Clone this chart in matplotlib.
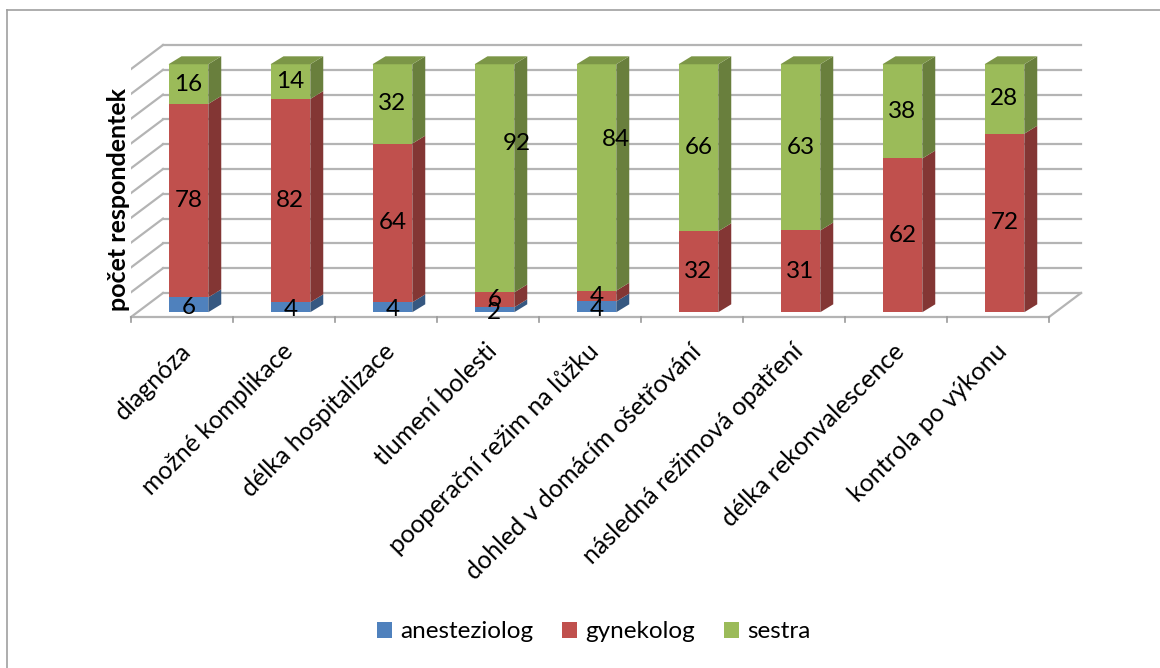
import numpy as np
import matplotlib
matplotlib.use("Agg")
import matplotlib.pyplot as plt
from matplotlib.patches import Polygon, Rectangle
from matplotlib.colors import to_rgb

plt.rcParams['font.family'] = ['Lato', 'DejaVu Sans']

categories = ["diagnóza", "možné komplikace", "délka hospitalizace", "tlumení bolesti",
              "pooperační režim na lůžku", "dohled v domácím ošetřování",
              "následná režimová opatření", "délka rekonvalescence", "kontrola po výkonu"]
anesteziolog = [6, 4, 4, 2, 4, 0, 0, 0, 0]
gynekolog = [78, 82, 64, 6, 4, 32, 31, 62, 72]
sestra = [16, 14, 32, 92, 84, 66, 63, 38, 28]

series = [("anesteziolog", anesteziolog, "#4f81bd"),
          ("gynekolog", gynekolog, "#c0504d"),
          ("sestra", sestra, "#9bbb59")]

# 100% stacked: each column is scaled to its own total
vals = np.array([s[1] for s in series], dtype=float)
pct = vals / vals.sum(axis=0) * 100
bottoms = np.vstack([np.zeros(len(categories)), np.cumsum(pct, axis=0)[:-1]])

# fake depth: shift per unit of depth along x (categories) and y (percent)
DX, DY = 0.314, 9.7
Z0 = 0.2                    # depth of the column fronts
BDX, BDY = 0.127, 3.2       # column depth (side / top faces)
W = 0.39
grid_c = "#b4b4b4"


def shade(c, f):
    return tuple(v * f for v in to_rgb(c))


fig = plt.figure(figsize=(11.6, 6.68), dpi=100)
ax = fig.add_axes([131 / 1160, 346 / 668, 969 / 1160, 282.7 / 668])
ax.set_xlim(-0.5, 9.0)
ax.set_ylim(-2, 112)
ax.axis("off")

n = len(categories)
# back wall + left wall gridlines
for v in range(0, 101, 10):
    ax.plot([-0.5 + DX, n - 0.5 + DX], [v + DY, v + DY], color=grid_c, lw=1.6, zorder=1)
    ax.plot([-0.5, -0.5 + DX], [v, v + DY], color=grid_c, lw=1.6, zorder=1)
# floor edges and ticks
ax.plot([-0.5, n - 0.5], [0, 0], color=grid_c, lw=1.6, zorder=1, clip_on=False)
ax.plot([n - 0.5, n - 0.5 + DX], [0, DY], color=grid_c, lw=1.6, zorder=1)
for b in np.arange(-0.5, n, 1.0):
    ax.plot([b, b], [0, -2.2], color="#9a9a9a", lw=1.2, clip_on=False, zorder=1)

# columns
for i in range(n):
    x0 = i + Z0 * DX - W / 2
    x1 = x0 + W
    top_k = max(k for k in range(len(series)) if pct[k, i] > 0)
    for k, (name, _, col) in enumerate(series):
        h = pct[k, i]
        if h <= 0:
            continue
        y0 = bottoms[k, i] + Z0 * DY
        y1 = y0 + h
        ax.add_patch(Rectangle((x0, y0), W, h, facecolor=col, edgecolor="none", zorder=3))
        ax.add_patch(Polygon([(x1, y0), (x1 + BDX, y0 + BDY), (x1 + BDX, y1 + BDY), (x1, y1)],
                             closed=True, facecolor=shade(col, 0.68), edgecolor="none", zorder=3))
        if k == top_k:
            ax.add_patch(Polygon([(x0, y1), (x1, y1), (x1 + BDX, y1 + BDY), (x0 + BDX, y1 + BDY)],
                                 closed=True, facecolor=shade(col, 0.8), edgecolor="none", zorder=3))

# value labels (two of them were dragged off-centre)
label_shift = {(2, 3): (0.22, 14.0), (2, 4): (0.19, 15.5)}
for k in range(len(series)):
    for i in range(n):
        if vals[k, i] <= 0:
            continue
        sx, sy = label_shift.get((k, i), (0.0, 0.0))
        xc = i + Z0 * DX + sx
        yc = bottoms[k, i] + pct[k, i] / 2 + Z0 * DY + sy
        if k == 0:
            yc -= 1.0
        ax.text(xc, yc, f"{int(vals[k, i])}", ha="center", va="center",
                fontsize=17.5, color="black", zorder=5)

# category labels
for i, c in enumerate(categories):
    ax.text(i - 0.03, -9, c, rotation=45, rotation_mode="anchor", ha="right", va="top",
            fontsize=18, color="black")

fig.text(118 / 1160, 1 - 200 / 668, "počet respondentek", rotation=90, ha="center",
         va="center", fontsize=18, fontweight="bold")

# legend
handles = [Rectangle((0, 0), 1, 1, facecolor=col) for _, _, col in series]
fig.legend(handles, [s[0] for s in series], loc="center", bbox_to_anchor=(594 / 1160, 1 - 632 / 668),
           ncol=3, frameon=False, fontsize=17.5, handlelength=0.6, handleheight=0.6,
           handletextpad=0.35, columnspacing=1.2)

# chart border (top and left visible)
fig.add_artist(plt.Line2D([7 / 1160, 7 / 1160], [0, 1 - 10 / 668], color="#a0a0a0", lw=1.2))
fig.add_artist(plt.Line2D([7 / 1160, 1], [1 - 10 / 668, 1 - 10 / 668], color="#a0a0a0", lw=1.2))

fig.savefig("out.png", dpi=100)
